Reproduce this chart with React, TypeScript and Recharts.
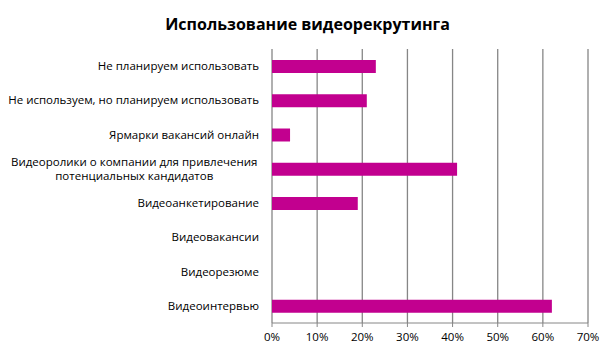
import { Bar, BarChart, CartesianGrid, XAxis, YAxis } from "recharts";

const TITLE = "Использование видеорекрутинга";
const PINK = "#C2008F";
const GRID = "#868686";
const FONT = "'Open Sans', sans-serif";
const FS = 11.5;

const categories = [
  "Не планируем использовать",
  "Не используем, но планируем использовать",
  "Ярмарки вакансий онлайн",
  "Видеоролики  о компании для привлечения\nпотенциальных кандидатов",
  "Видеоанкетирование",
  "Видеовакансии",
  "Видеорезюме",
  "Видеоинтервью",
];
const values = [23, 21, 4, 41, 19, 0, 0, 62];
const xTicks = [0, 10, 20, 30, 40, 50, 60, 70];
const boundaryTicks = [0, 1, 2, 3, 4, 5, 6, 7, 8];

const data = categories.map((name, i) => ({ name, value: values[i] }));

let ctx: CanvasRenderingContext2D | null = null;
function textWidth(t: string) {
  if (!ctx) ctx = document.createElement("canvas").getContext("2d");
  if (!ctx) return t.length * 6;
  ctx.font = `${FS}px ${FONT}`;
  return ctx.measureText(t).width;
}

function CatTick({ x, y, payload }: any) {
  const lines: string[] = String(payload.value).split("\n");
  const lh = 14.5;
  const w0 = textWidth(lines[0]);
  const cx = x - w0 / 2;
  return (
    <g>
      {lines.map((l, i) => (
        <text
          key={i}
          x={lines.length > 1 ? cx : x}
          y={y + (i - (lines.length - 1) / 2) * lh}
          dy={4}
          textAnchor={lines.length > 1 ? "middle" : "end"}
          fontSize={FS}
          fontFamily={FONT}
          fill="#000"
        >
          {l}
        </text>
      ))}
    </g>
  );
}

export default function App() {
  return (
    <div style={{ position: "relative", width: 615, height: 357, background: "#fff" }}>
      <style>{"body{margin:0}"}</style>
      <div
        style={{
          position: "absolute",
          top: 13,
          left: 0,
          width: 615,
          textAlign: "center",
          fontFamily: FONT,
          fontWeight: 700,
          fontSize: 16,
          color: "#000",
        }}
      >
        {TITLE}
      </div>
      <BarChart
        width={615}
        height={357}
        data={data}
        layout="vertical"
        margin={{ top: 49, right: 27, bottom: 0, left: 0 }}
      >
        <CartesianGrid horizontal={false} stroke={GRID} strokeWidth={1.3} yAxisId="cat" />
        <XAxis
          type="number"
          domain={[0, 70]}
          ticks={xTicks}
          tickFormatter={(v) => `${v}%`}
          height={34}
          tickSize={4}
          tickMargin={6}
          stroke={GRID}
          tick={{ fill: "#000", fontSize: FS, fontFamily: FONT }}
        />
        <YAxis
          yAxisId="edge"
          type="number"
          domain={[0, 8]}
          ticks={boundaryTicks}
          allowDataOverflow
          width={0}
          tickSize={4}
          tickFormatter={() => ""}
          stroke={GRID}
        />
        <YAxis
          yAxisId="cat"
          type="category"
          dataKey="name"
          width={272}
          axisLine={false}
          tickLine={false}
          tickSize={0}
          tickMargin={13}
          interval={0}
          tick={<CatTick />}
        />
        <Bar dataKey="value" yAxisId="cat" fill={PINK} barSize={13} isAnimationActive={false} />
      </BarChart>
    </div>
  );
}
